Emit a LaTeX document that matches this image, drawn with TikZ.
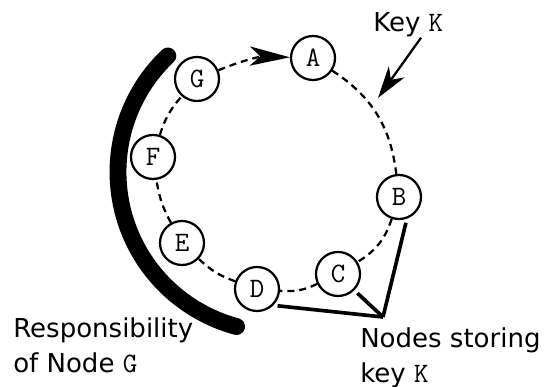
\documentclass[tikz,border=0pt]{standalone}
\usepackage{fontspec}
\setmainfont{DejaVu Sans}
\usetikzlibrary{arrows.meta}

\begin{document}
\begin{tikzpicture}[x=0.025cm, y=0.025cm, every node/.style={font=\fontsize{18.5}{24.9}\selectfont}, peer/.style={draw, circle, line width=1.6pt, fill=white, minimum size=1.1cm, inner sep=0pt, font=\fontsize{20}{22}\selectfont\ttfamily}, ring/.style={dash pattern=on 5pt off 3.5pt, line width=1.6pt}, store/.style={line width=2.6pt, shorten <=3pt}, resp/.style={line width=12pt, line cap=round}]
	\useasboundingbox (0,0) rectangle (546,387);
	\coordinate (ctr) at (278,215);
	\draw[resp] (ctr) ++(133.5:160) arc[start angle=133.5, end angle=255, radius=160];
	\node[peer] (A) at (313,329) {A};
	\node[peer] (B) at (399,190) {B};
	\node[peer] (C) at (338,113) {C};
	\node[peer] (D) at (257,98) {D};
	\node[peer] (E) at (182,144) {E};
	\node[peer] (F) at (153,230) {F};
	\node[peer] (G) at (197,308) {G};
	\draw[ring] (A) to[bend left=25] (B);
	\draw[ring] (B) to[bend left=20] (C);
	\draw[ring] (C) to[bend left=15] (D);
	\draw[ring] (D) to[bend left=12] (E);
	\draw[ring] (E) to[bend left=10] (F);
	\draw[ring] (F) to[bend left=12] (G);
	\draw[ring, -{Stealth[length=1.0cm, width=0.48cm, inset=0.26cm]}] (G) to[bend left=12] (A);
	\node[anchor=base west, inner sep=0pt] (key) at (373,355) {Key {\fontsize{20}{22}\selectfont\ttfamily K}};
	\coordinate (kpos) at (378,289);
	\draw[line width=1.6pt, -{Stealth[length=0.8cm, width=0.48cm, inset=0.24cm]}] ([xshift=0.32cm]key.south) -- (kpos);
	\coordinate (hub) at (383,70);
	\draw[store] (B.-70) -- (hub);
	\draw[store] (C.-45) -- (hub);
	\draw[store] (D.-45) -- (hub);
	\node[anchor=north west, align=left, inner sep=0pt] (resp) at (13,70) {Responsibility\\of Node {\fontsize{20}{22}\selectfont\ttfamily G}};
	\node[anchor=north west, align=left, inner sep=0pt] (stor) at (360,60) {Nodes storing\\key {\fontsize{20}{22}\selectfont\ttfamily K}};
\end{tikzpicture}
\end{document}
